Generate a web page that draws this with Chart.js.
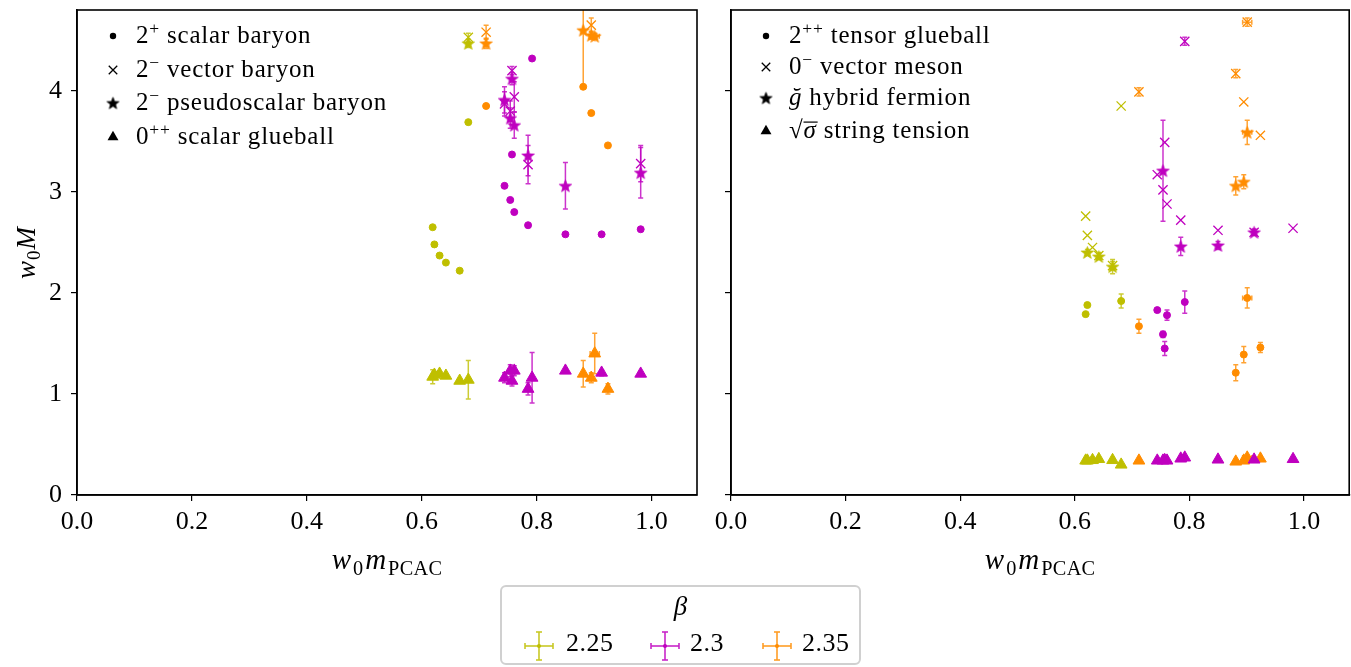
<!DOCTYPE html>
<html><head><meta charset="utf-8">
<script src="https://cdn.jsdelivr.net/npm/chart.js@4.4.1/dist/chart.umd.min.js"></script>
<style>
html,body{margin:0;padding:0;background:#fff;width:1351px;height:667px;overflow:hidden;}
#c1{position:absolute;left:0;top:0;}
#c2{position:absolute;left:700px;top:0;}
#leg{position:absolute;left:500px;top:585px;width:357px;height:76px;border:2px solid #d0d0d0;border-radius:6px;font-family:'Liberation Serif',serif;color:#000;background:#fff;}
#leg .t{position:absolute;left:0;width:357px;top:4px;text-align:center;font-size:27px;font-style:italic;}
#leg .n{position:absolute;top:41px;font-size:26px;letter-spacing:0.5px;}
#leg svg{position:absolute;top:44px;}
</style></head><body>
<canvas id="c1" width="715" height="600"></canvas>
<canvas id="c2" width="657" height="600"></canvas>
<div id="leg">
  <div class="t">β</div>
  <svg style="left:22px" width="30" height="30"><g stroke="#bfbf00" stroke-width="1.6" opacity="0.85"><line x1="1" y1="15" x2="29" y2="15"/><line x1="15" y1="1" x2="15" y2="29"/><line x1="1" y1="12" x2="1" y2="18"/><line x1="29" y1="12" x2="29" y2="18"/><line x1="12" y1="1" x2="18" y2="1"/><line x1="12" y1="29" x2="18" y2="29"/></g><circle cx="15" cy="15" r="2" fill="#bfbf00"/></svg>
  <span class="n" style="left:64px">2.25</span>
  <svg style="left:148px" width="30" height="30"><g stroke="#bf00bf" stroke-width="1.6" opacity="0.85"><line x1="1" y1="15" x2="29" y2="15"/><line x1="15" y1="1" x2="15" y2="29"/><line x1="1" y1="12" x2="1" y2="18"/><line x1="29" y1="12" x2="29" y2="18"/><line x1="12" y1="1" x2="18" y2="1"/><line x1="12" y1="29" x2="18" y2="29"/></g><circle cx="15" cy="15" r="2" fill="#bf00bf"/></svg>
  <span class="n" style="left:188px">2.3</span>
  <svg style="left:260px" width="30" height="30"><g stroke="#ff8c00" stroke-width="1.6" opacity="0.85"><line x1="1" y1="15" x2="29" y2="15"/><line x1="15" y1="1" x2="15" y2="29"/><line x1="1" y1="12" x2="1" y2="18"/><line x1="29" y1="12" x2="29" y2="18"/><line x1="12" y1="1" x2="18" y2="1"/><line x1="12" y1="29" x2="18" y2="29"/></g><circle cx="15" cy="15" r="2" fill="#ff8c00"/></svg>
  <span class="n" style="left:300px">2.35</span>
</div>
<script>
// ---------------- DATA ----------------
const betas = ['2.25', '2.3', '2.35'];
const xTicks = [0.0, 0.2, 0.4, 0.6, 0.8, 1.0];
const yTicks = [0, 1, 2, 3, 4];

// w0 m_PCAC per ensemble
const xB225 = [0.619, 0.622, 0.631, 0.642, 0.666, 0.681];
const xB230 = [0.744, 0.754, 0.757, 0.761, 0.785, 0.792, 0.850, 0.913, 0.981];
const xB235 = [0.712, 0.881, 0.895, 0.901, 0.924];
const xErr225 = [0, 0, 0, 0, 0, 0];
const xErr230 = [0, 0, 0, 0, 0, 0, 0, 0, 0];
const xErr235 = [0, 0, 0, 0.008, 0];

// Left panel: baryons and scalar glueball
const scalarBaryon225 = [2.65, 2.48, 2.37, 2.30, 2.22, 3.69];
const scalarBaryon225Err = [0, 0, 0, 0, 0, 0];
const scalarBaryon230 = [3.06, 2.92, 3.37, 2.80, 2.67, 4.32, 2.58, 2.58, 2.63];
const scalarBaryon230Err = [0, 0, 0, 0, 0, 0, 0, 0, 0];
const scalarBaryon235 = [3.85, 4.04, 3.78, null, 3.46];
const scalarBaryon235Err = [0, 0, 0, 0, 0];

const vectorBaryon225 = [null, null, null, null, null, 4.53];
const vectorBaryon225Err = [0, 0, 0, 0, 0, 0.04];
const vectorBaryon230 = [3.87, 3.80, 4.20, 3.94, 3.27, null, null, null, 3.28];
const vectorBaryon230Err = [0.12, 0.10, 0.04, 0.15, 0.19, 0, 0, 0, 0.18];
const vectorBaryon235 = [4.58, null, 4.65, null, null];
const vectorBaryon235Err = [0.07, 0, 0.07, 0, 0];

const pseudoscalarBaryon225 = [null, null, null, null, null, 4.47];
const pseudoscalarBaryon225Err = [0, 0, 0, 0, 0, 0.04];
const pseudoscalarBaryon230 = [3.91, 3.73, 4.12, 3.66, 3.36, null, 3.06, null, 3.19];
const pseudoscalarBaryon230Err = [0.13, 0.10, 0.06, 0.13, 0.20, 0, 0.23, 0, 0.25];
const pseudoscalarBaryon235 = [4.47, 4.60, 4.55, 4.54, null];
const pseudoscalarBaryon235Err = [0.05, 0.56, 0.04, 0.03, 0];

const scalarGlueball225 = [1.17, 1.19, 1.20, 1.18, 1.13, 1.14];
const scalarGlueball225Err = [0.07, 0.03, 0.02, 0.02, 0.02, 0.19];
const scalarGlueball230 = [1.16, 1.23, 1.13, 1.23, 1.05, 1.16, 1.23, 1.21, 1.20];
const scalarGlueball230Err = [0.05, 0.06, 0.05, 0.05, 0.06, 0.25, 0.02, 0.03, 0.02];
const scalarGlueball235 = [null, 1.20, 1.16, 1.40, 1.05];
const scalarGlueball235Err = [0, 0.13, 0.05, 0.20, 0.05];

// Right panel: mesons, tensor glueball, hybrid, string tension
const tensorGlueball225 = [1.79, 1.88, null, null, null, 1.92];
const tensorGlueball225Err = [0.01, 0.02, 0, 0, 0, 0.07];
const tensorGlueball230 = [1.83, 1.59, 1.45, 1.78, null, 1.91, null, null, null];
const tensorGlueball230Err = [0.02, 0.03, 0.07, 0.05, 0, 0.11, 0, 0, 0];
const tensorGlueball235 = [1.67, 1.21, 1.39, 1.95, 1.46];
const tensorGlueball235Err = [0.07, 0.08, 0.08, 0.10, 0.05];

const vectorMeson225 = [2.76, 2.57, 2.45, 2.37, 2.27, 3.85];
const vectorMeson225Err = [0, 0, 0, 0.03, 0.04, 0];
const vectorMeson230 = [3.17, 3.02, 3.49, 2.88, 2.72, 4.49, 2.62, 2.60, 2.64];
const vectorMeson230Err = [0, 0, 0, 0, 0, 0.04, 0, 0.03, 0];
const vectorMeson235 = [3.99, 4.17, 3.89, 4.68, 3.56];
const vectorMeson235Err = [0.04, 0.04, 0, 0.04, 0];

const hybridFermion225 = [null, 2.40, null, 2.36, 2.26, null];
const hybridFermion225Err = [0, 0.03, 0, 0.03, 0.07, 0];
const hybridFermion230 = [null, 3.21, null, null, 2.46, null, 2.47, 2.60, null];
const hybridFermion230Err = [0, 0.50, 0, 0, 0.09, 0, 0.04, 0.03, 0];
const hybridFermion235 = [null, 3.06, 3.10, 3.59, null];
const hybridFermion235Err = [0, 0.09, 0.07, 0.12, 0];

const stringTension225 = [0.34, 0.34, 0.345, 0.355, 0.345, 0.30];
const stringTension230 = [0.34, 0.34, 0.345, 0.34, 0.36, 0.37, 0.35, 0.35, 0.355];
const stringTension235 = [0.34, 0.33, 0.34, 0.37, 0.36];

// ---------------- STYLE ----------------
const betaColors = ['#bfbf00', '#bf00bf', '#ff8c00'];
const FONT = "'Liberation Serif', 'Times New Roman', serif";
const X_MAX = 1.079, Y_MAX = 4.8;
const xByBeta = [xB225, xB230, xB235];
const xErrByBeta = [xErr225, xErr230, xErr235];
const zeros = a => a.map(() => 0);

function starCanvas(color, R) {
  const s = Math.ceil(R * 2 + 4);
  const c = document.createElement('canvas'); c.width = s; c.height = s;
  const g = c.getContext('2d');
  g.beginPath();
  for (let k = 0; k < 10; k++) {
    const r = k % 2 === 0 ? R : R * 0.42;
    const a = -Math.PI / 2 + k * Math.PI / 5;
    g.lineTo(s / 2 + r * Math.cos(a), s / 2 + 0.6 + r * Math.sin(a));
  }
  g.closePath(); g.fillStyle = color; g.fill();
  g.lineWidth = 0.8; g.strokeStyle = color; g.stroke();
  return c;
}
const starImgs = betaColors.map(c => starCanvas(c, 6.5));
const blackStar = starCanvas('#000', 6.3);

const markerStyle = {
  circle: { r: 3.5, bw: 1 },
  crossRot: { r: 6.5, bw: 1.3 },
  star: { r: 6.5, bw: 1 },
  triangle: { r: 6.8, bw: 1 }
};

function buildDatasets(states) {
  const ds = [];
  states.forEach(st => {
    for (let b = 0; b < 3; b++) {
      const vals = st.values[b], errs = st.errors[b];
      const pts = [];
      vals.forEach((v, i) => {
        if (v !== null) pts.push({ x: xByBeta[b][i], y: v, yErr: errs[i], xErr: xErrByBeta[b][i] });
      });
      const ms = markerStyle[st.style];
      ds.push({
        label: st.name + ' β=' + betas[b],
        data: pts,
        pointStyle: st.style === 'star' ? starImgs[b] : st.style,
        pointRadius: ms.r,
        pointHoverRadius: ms.r,
        borderWidth: ms.bw,
        pointBorderWidth: ms.bw,
        backgroundColor: betaColors[b],
        borderColor: betaColors[b],
        showLine: false
      });
    }
  });
  return ds;
}

function drawRich(ctx, segs, x, y, size, align, spacing) {
  ctx.save();
  const parts = segs.map(s => {
    const sz = (s.sub || s.sup) ? size * 0.7 : size;
    const font = (s.it ? 'italic ' : '') + sz + 'px ' + FONT;
    const sp = (s.sp !== undefined ? s.sp : (spacing || 0));
    try { ctx.letterSpacing = sp + 'px'; } catch (e) {}
    ctx.font = font;
    return { t: s.t, font, sp, over: s.over, w: ctx.measureText(s.t).width,
      dy: s.sup ? -size * 0.36 : (s.sub ? size * 0.2 : 0) };
  });
  const total = parts.reduce((a, p) => a + p.w, 0);
  let cx = align === 'center' ? x - total / 2 : x;
  ctx.textBaseline = 'alphabetic'; ctx.textAlign = 'left'; ctx.fillStyle = '#000';
  parts.forEach(p => {
    try { ctx.letterSpacing = p.sp + 'px'; } catch (e) {}
    ctx.font = p.font; ctx.fillText(p.t, cx, y + p.dy);
    if (p.over) { ctx.fillRect(cx, y - size * 0.66, p.w + 1, 1.2); }
    cx += p.w;
  });
  ctx.restore();
}

function drawMarker(ctx, style, x, y) {
  const ms = markerStyle[style];
  ctx.save(); ctx.fillStyle = '#000'; ctx.strokeStyle = '#000'; ctx.lineWidth = ms.bw;
  if (style === 'circle') { ctx.beginPath(); ctx.arc(x, y, 3.2, 0, Math.PI * 2); ctx.fill(); }
  else if (style === 'crossRot') {
    const h = 6 * Math.SQRT1_2; ctx.beginPath();
    ctx.moveTo(x - h, y - h); ctx.lineTo(x + h, y + h); ctx.moveTo(x + h, y - h); ctx.lineTo(x - h, y + h); ctx.stroke();
  } else if (style === 'star') { ctx.drawImage(blackStar, x - blackStar.width / 2, y - blackStar.height / 2); }
  else if (style === 'triangle') {
    ctx.beginPath();
    for (let k = 0; k < 3; k++) { const a = k * 2 * Math.PI / 3; ctx.lineTo(x + Math.sin(a) * 6.3, y - Math.cos(a) * 6.3); }
    ctx.closePath(); ctx.fill();
  }
  ctx.restore();
}

const errorBarPlugin = {
  id: 'errbars',
  beforeDatasetsDraw(chart) {
    const { ctx, chartArea: ca, scales } = chart;
    const xs = scales.x, ys = scales.y;
    ctx.save();
    ctx.beginPath(); ctx.rect(ca.left, ca.top, ca.right - ca.left, ca.bottom - ca.top); ctx.clip();
    ctx.lineWidth = 1.5; ctx.globalAlpha = 0.8;
    chart.data.datasets.forEach(ds => {
      ctx.strokeStyle = ds.borderColor;
      ds.data.forEach(p => {
        const px = xs.getPixelForValue(p.x), py = ys.getPixelForValue(p.y);
        ctx.beginPath();
        if (p.yErr) {
          const y1 = ys.getPixelForValue(p.y - p.yErr), y2 = ys.getPixelForValue(p.y + p.yErr);
          ctx.moveTo(px, y1); ctx.lineTo(px, y2);
          ctx.moveTo(px - 2.5, y1); ctx.lineTo(px + 2.5, y1);
          ctx.moveTo(px - 2.5, y2); ctx.lineTo(px + 2.5, y2);
        }
        if (p.xErr) {
          const x1 = xs.getPixelForValue(p.x - p.xErr), x2 = xs.getPixelForValue(p.x + p.xErr);
          ctx.moveTo(x1, py); ctx.lineTo(x2, py);
          ctx.moveTo(x1, py - 2.5); ctx.lineTo(x1, py + 2.5);
          ctx.moveTo(x2, py - 2.5); ctx.lineTo(x2, py + 2.5);
        }
        ctx.stroke();
      });
    });
    ctx.restore();
  }
};

function decorPlugin(legendRows, legendX, rowYs, showYTitle) {
  return {
    id: 'decor',
    afterDraw(chart) {
      const { ctx, chartArea: ca } = chart;
      ctx.save();
      ctx.strokeStyle = '#000'; ctx.lineWidth = 1.6;
      ctx.strokeRect(ca.left, ca.top, ca.right - ca.left, ca.bottom - ca.top);
      // inner legend
      legendRows.forEach((row, i) => {
        drawMarker(ctx, row.style, ca.left + legendX, rowYs[i]);
        drawRich(ctx, row.segs, ca.left + legendX + 23, rowYs[i] + 7, 25, 'left', 0.8);
      });
      // x title
      drawRich(ctx, [{ t: 'w', it: 1, sp: 2 }, { t: '0', sub: 1, sp: 2 }, { t: 'm', it: 1, sp: 2 }, { t: 'PCAC', sub: 1, sp: 0.3 }],
        (ca.left + ca.right) / 2, ca.bottom + 74, 29, 'center');
      if (showYTitle) {
        ctx.save(); ctx.translate(35, (ca.top + ca.bottom) / 2); ctx.rotate(-Math.PI / 2);
        drawRich(ctx, [{ t: 'w', it: 1 }, { t: '0', sub: 1 }, { t: 'M', it: 1 }], 0, 0, 27, 'center', 1);
        ctx.restore();
      }
      ctx.restore();
    }
  };
}

function makeChart(canvasId, states, yWidth, padRight, showYLabels, legendRows, legendX, rowYs) {
  return new Chart(document.getElementById(canvasId), {
    type: 'scatter',
    data: { datasets: buildDatasets(states) },
    options: {
      responsive: false, animation: false, events: [],
      layout: { padding: { left: 0, top: 10, right: padRight, bottom: 0 } },
      plugins: { legend: { display: false }, tooltip: { enabled: false } },
      scales: {
        x: {
          type: 'linear', min: 0, max: X_MAX,
          afterFit(s) { s.height = 105; s.paddingLeft = 0; s.paddingRight = 0; },
          afterBuildTicks(s) { s.ticks = xTicks.map(v => ({ value: v })); },
          grid: { display: true, drawOnChartArea: false, drawTicks: true, tickLength: 6, color: '#000', lineWidth: 1.2 },
          border: { display: true, color: '#000', width: 1.6 },
          ticks: { autoSkip: false, maxRotation: 0, padding: 6, color: '#000',
            font: { family: FONT, size: 26 }, callback: v => v.toFixed(1) }
        },
        y: {
          type: 'linear', min: 0, max: Y_MAX,
          afterFit(s) { s.width = yWidth; s.paddingTop = 0; s.paddingBottom = 0; },
          afterBuildTicks(s) { s.ticks = yTicks.map(v => ({ value: v })); },
          grid: { display: true, drawOnChartArea: false, drawTicks: true, tickLength: 6, color: '#000', lineWidth: 1.2 },
          border: { display: true, color: '#000', width: 1.6 },
          ticks: { padding: 9, color: '#000', font: { family: FONT, size: 26 },
            callback: v => showYLabels ? String(v) : '' }
        }
      }
    },
    plugins: [errorBarPlugin, decorPlugin(legendRows, legendX, rowYs, showYLabels)]
  });
}

const leftStates = [
  { name: '2+ scalar baryon', style: 'circle', values: [scalarBaryon225, scalarBaryon230, scalarBaryon235], errors: [scalarBaryon225Err, scalarBaryon230Err, scalarBaryon235Err] },
  { name: '2- vector baryon', style: 'crossRot', values: [vectorBaryon225, vectorBaryon230, vectorBaryon235], errors: [vectorBaryon225Err, vectorBaryon230Err, vectorBaryon235Err] },
  { name: '2- pseudoscalar baryon', style: 'star', values: [pseudoscalarBaryon225, pseudoscalarBaryon230, pseudoscalarBaryon235], errors: [pseudoscalarBaryon225Err, pseudoscalarBaryon230Err, pseudoscalarBaryon235Err] },
  { name: '0++ scalar glueball', style: 'triangle', values: [scalarGlueball225, scalarGlueball230, scalarGlueball235], errors: [scalarGlueball225Err, scalarGlueball230Err, scalarGlueball235Err] }
];
const rightStates = [
  { name: '2++ tensor glueball', style: 'circle', values: [tensorGlueball225, tensorGlueball230, tensorGlueball235], errors: [tensorGlueball225Err, tensorGlueball230Err, tensorGlueball235Err] },
  { name: '0- vector meson', style: 'crossRot', values: [vectorMeson225, vectorMeson230, vectorMeson235], errors: [vectorMeson225Err, vectorMeson230Err, vectorMeson235Err] },
  { name: 'hybrid fermion', style: 'star', values: [hybridFermion225, hybridFermion230, hybridFermion235], errors: [hybridFermion225Err, hybridFermion230Err, hybridFermion235Err] },
  { name: 'string tension', style: 'triangle', values: [stringTension225, stringTension230, stringTension235], errors: [zeros(stringTension225), zeros(stringTension230), zeros(stringTension235)] }
];

const leftLegend = [
  { style: 'circle', segs: [{ t: '2' }, { t: '+', sup: 1 }, { t: ' scalar baryon' }] },
  { style: 'crossRot', segs: [{ t: '2' }, { t: '−', sup: 1 }, { t: ' vector baryon' }] },
  { style: 'star', segs: [{ t: '2' }, { t: '−', sup: 1 }, { t: ' pseudoscalar baryon' }] },
  { style: 'triangle', segs: [{ t: '0' }, { t: '++', sup: 1 }, { t: ' scalar glueball' }] }
];
const rightLegend = [
  { style: 'circle', segs: [{ t: '2' }, { t: '++', sup: 1 }, { t: ' tensor glueball' }] },
  { style: 'crossRot', segs: [{ t: '0' }, { t: '−', sup: 1 }, { t: ' vector meson' }] },
  { style: 'star', segs: [{ t: 'ğ', it: 1 }, { t: ' hybrid fermion' }] },
  { style: 'triangle', segs: [{ t: '√' }, { t: 'σ', it: 1, over: 1 }, { t: ' string tension' }] }
];

makeChart('c1', leftStates, 77, 18, true, leftLegend, 36, [36, 70, 103, 137]);
makeChart('c2', rightStates, 31, 2, false, rightLegend, 35, [36, 67, 98, 131]);
</script>
</body></html>
